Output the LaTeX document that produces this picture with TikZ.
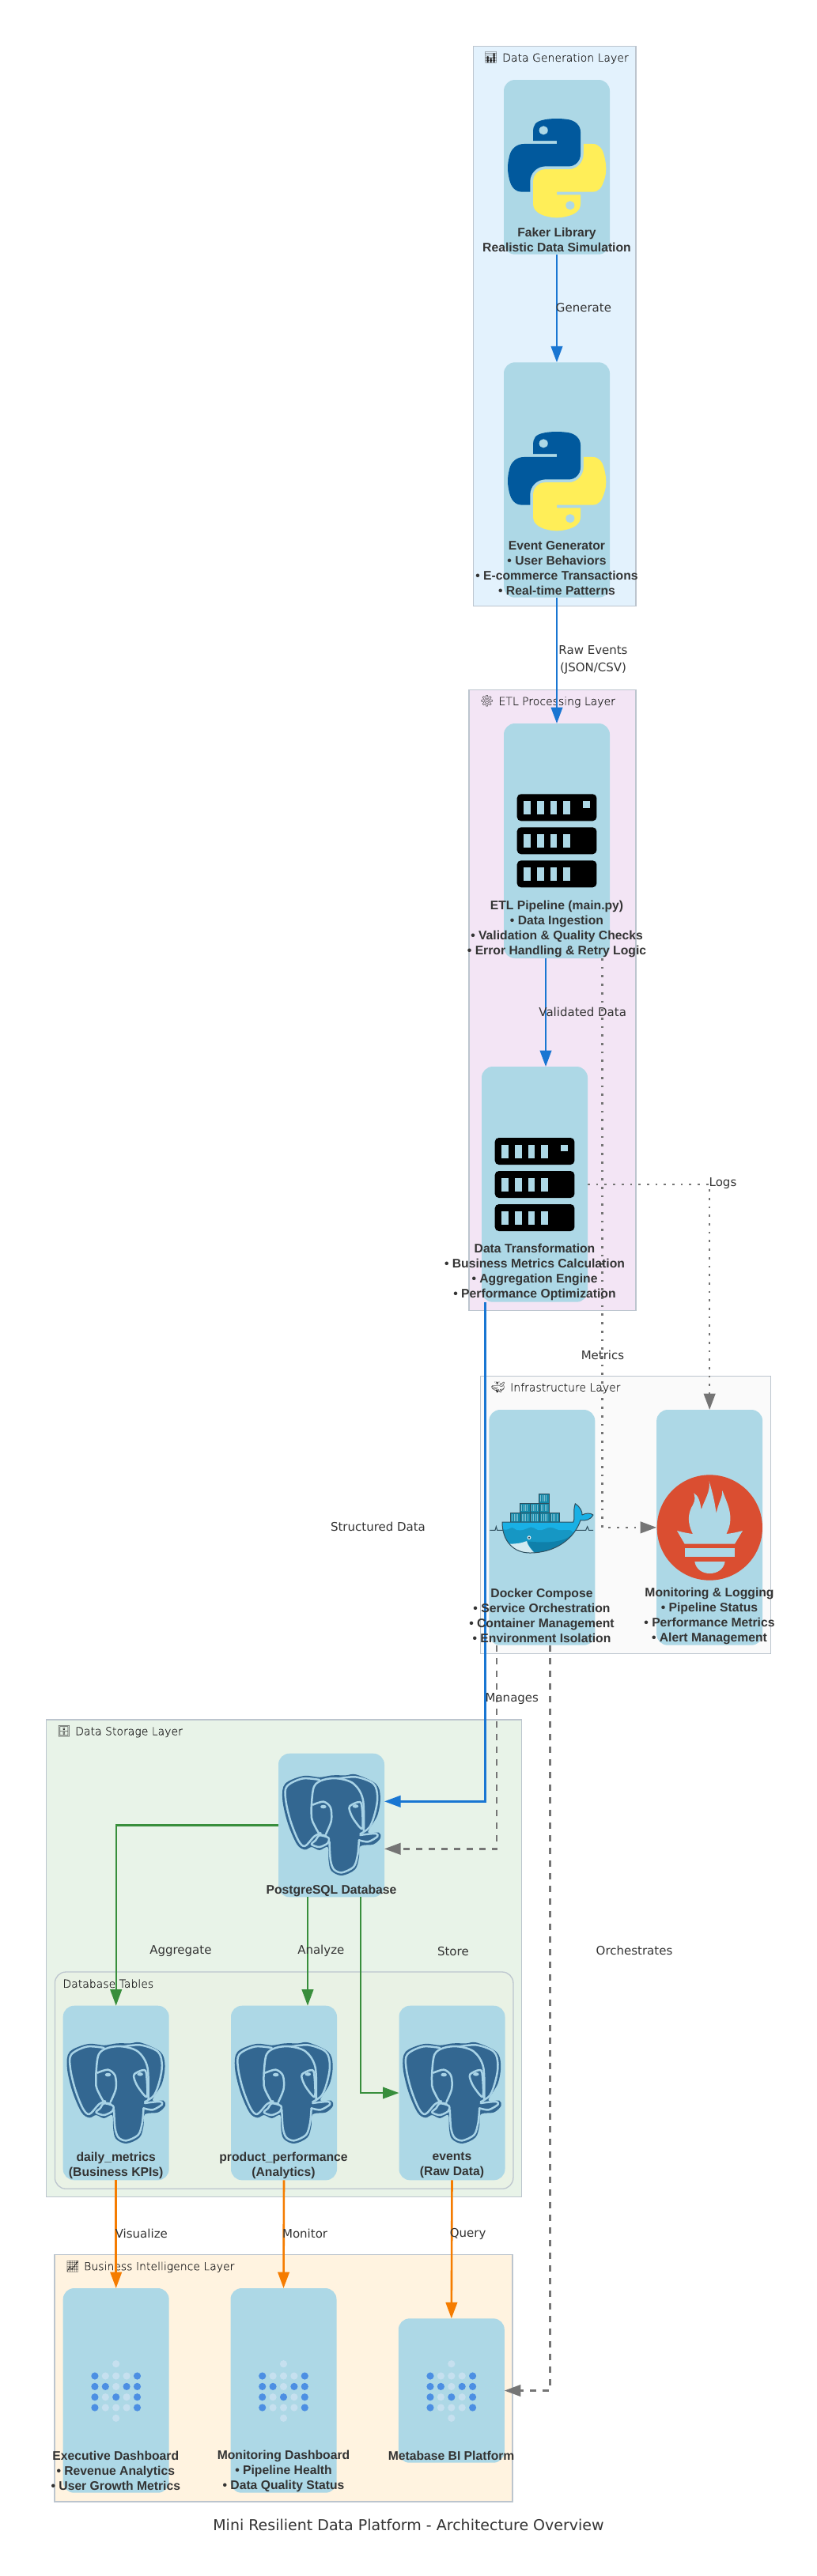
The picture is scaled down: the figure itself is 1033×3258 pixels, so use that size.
\documentclass[tikz,border=0pt]{standalone}
\usepackage{fontspec}
\setmainfont{DejaVu Sans}
\newfontfamily\boldf{Liberation Sans Bold}
\newfontfamily\lightf[FakeBold=0.2]{DejaVu Sans ExtraLight}
\newfontfamily\emoj{Noto Emoji}
\usetikzlibrary{arrows.meta,svg.path}
\definecolor{nodefill}{HTML}{ADD8E6}
\definecolor{txt}{HTML}{333333}
\definecolor{laytxt}{HTML}{222222}
\definecolor{flowb}{HTML}{1976D2}
\definecolor{flowg}{HTML}{388E3C}
\definecolor{flowo}{HTML}{F57C00}
\definecolor{flowk}{HTML}{757575}
\definecolor{edgeline}{HTML}{BCC5CE}
\definecolor{pgblue}{HTML}{336791}
\definecolor{pglight}{HTML}{A8D3E6}
\definecolor{pyblue}{HTML}{01599D}
\definecolor{pyyel}{HTML}{FFEE58}
\definecolor{promred}{HTML}{DA4E31}
\definecolor{mbdark}{HTML}{4C8FE3}
\definecolor{mblight}{HTML}{C6E0EF}
\definecolor{dkline}{HTML}{2F4F5E}
\definecolor{dkcont}{HTML}{1488A8}
\definecolor{dktop}{HTML}{19B0E5}
\definecolor{dkbody}{HTML}{1697C4}
\definecolor{dkdeep}{HTML}{0F80AA}
\definecolor{lgen}{HTML}{E3F2FD}
\definecolor{letl}{HTML}{F3E5F5}
\definecolor{linf}{HTML}{FAFAFA}
\definecolor{lsto}{HTML}{E8F3E8}
\definecolor{ltab}{HTML}{E9F2E5}
\definecolor{lbi}{HTML}{FFF3E0}
\tikzset{
  layerbox/.style={rectangle,draw=edgeline,line width=1.3pt,inner sep=0pt,outer sep=0pt},
  nodebox/.style={rectangle,rounded corners=14pt,fill=nodefill,inner sep=0pt,outer sep=0pt,minimum width=134pt},
  nodelabel/.style={font=\boldf\fontsize{15.7}{19}\selectfont,text=txt,align=center,inner sep=0pt},
  edgelabel/.style={font=\fontsize{15}{22.5}\selectfont,text=txt,align=center,inner sep=0pt},
  layerlabel/.style={font=\lightf\fontsize{14}{17}\selectfont,text=laytxt,anchor=west,inner sep=0pt},
  flow/.style={line width=2.6pt,-{Triangle[length=20.5pt,width=14.5pt]}},
  dashflow/.style={line width=2.4pt,draw=flowk,dash pattern=on 8pt off 8pt,-{Triangle[length=20.5pt,width=14.5pt,fill=flowk]}},
  dotflow/.style={line width=2.6pt,draw=flowk,dash pattern=on 2.7pt off 8pt,-{Triangle[length=20.5pt,width=14.5pt,fill=flowk]}},
  pgline/.style={draw=pglight,line width=2.5pt,line cap=round,line join=round},
}
\newcommand{\pyicon}[2]{%
  \begin{scope}[shift={(#1,#2)},xscale=1.118,yscale=-1.115]
  \fill[pyblue,even odd rule] svg {M 54.918785 0 C 50.335132 0.02221727 45.957846 0.41313697 42.106285 1.0946693 C 30.760069 3.0991731 28.700036 7.2947714 28.700035 15.032169 L 28.700035 25.250919 L 55.512535 25.250919 L 55.512535 28.657169 L 18.637535 28.657169 C 10.845076 28.657169 4.021776 33.340886 1.887535 42.250919 C -0.574285 52.463885 -0.68348 58.836942 1.887535 69.500919 C 3.793463 77.438771 8.345078 83.094667 16.137535 83.094669 L 25.356285 83.094669 L 25.356285 70.844669 C 25.356285 61.994767 33.013429 54.188421 42.106285 54.188419 L 68.887535 54.188419 C 76.342486 54.188419 82.293788 48.050255 82.293785 40.563419 L 82.293785 15.032169 C 82.293785 7.76583 76.163805 2.307392 68.887535 1.0946693 C 64.281548 0.32794397 59.502438 -0.02037903 54.918785 0 Z M 40.418785 8.21875 C 43.188332 8.21875 45.450035 10.5174 45.450035 13.34375 C 45.450035 16.160086 43.188332 18.4375 40.418785 18.4375 C 37.639309 18.4375 35.387535 16.160086 35.387535 13.34375 C 35.387535 10.5174 37.639309 8.21875 40.418785 8.21875 Z};
  \fill[pyyel,even odd rule] svg {M 85.637535 28.657169 L 85.637535 40.563419 C 85.637535 49.794174 77.81164 57.563418 68.887535 57.563419 L 42.106285 57.563419 C 34.770452 57.563419 28.700036 63.841902 28.700035 71.188419 L 28.700035 96.719666 C 28.700035 103.98601 35.018623 108.25999 42.106285 110.34467 C 50.593616 112.84028 58.732522 113.2913 68.887535 110.34467 C 75.63769 108.39028 82.293788 104.45706 82.293785 96.719666 L 82.293785 86.500919 L 55.512535 86.500919 L 55.512535 83.094669 L 95.700039 83.094669 C 103.4925 83.094669 106.39629 77.659261 109.10628 69.500919 C 111.90561 61.102033 111.8465 53.025143 109.10628 42.250919 C 107.1805 34.493478 103.50241 28.657169 95.700039 28.657169 Z M 70.575035 93.313419 C 73.354513 93.313422 75.606285 95.590836 75.606285 98.407166 C 75.606285 101.23352 73.35451 103.53217 70.575035 103.53217 C 67.805485 103.53217 65.543785 101.23352 65.543785 98.407166 C 65.543785 95.590836 67.805482 93.313419 70.575035 93.313419 Z};
  \end{scope}}
\newcommand{\srvrow}[3]{%
  \fill[black,rounded corners=5pt] (#1,#2) rectangle ++(100.7,34);
  \foreach \k in {0,1,2,3} {\fill[nodefill] (#1+8.3+16.8*\k,#2+8.7) rectangle ++(8.7,17);}
  \ifnum#3=1 \fill[nodefill] (#1+83.7,#2+8.7) rectangle ++(8.7,8.7);\fi}
\newcommand{\srvicon}[2]{%
  \srvrow{#1}{#2}{1}\srvrow{#1}{#2+42}{0}\srvrow{#1}{#2+84}{0}}
\newcommand{\pgicon}[2]{%
  \begin{scope}[shift={(#1,#2)}]
  \fill[pgblue] plot[smooth cycle,tension=0.55] coordinates {(26.7,1.7)(46.7,3.5)(63,1)(80,1)(93,0)(118,11.7)(123.7,28.3)(120,51.7)(108,73)(121.7,73.3)(124,80)(115,88.3)(98.3,90.7)(96.7,105)(91.7,120)(75,127.7)(61.7,121.7)(58.3,108.3)(57.3,91.7)(46.7,95.7)(36.7,91.7)(28.3,95)(18.3,88.3)(6.7,61.7)(0,31.7)(3.3,11.7)};
  \draw[pgline] plot[smooth,tension=0.55] coordinates {(46.7,6.7)(25,5.2)(5.5,15)(4,31.7)(10,58.3)(20,83.3)(28.3,90.5)(40,78.3)(48.3,74)};
  \draw[pgline] plot[smooth,tension=0.55] coordinates {(36.7,55)(36.7,38.3)(40,15)(51.7,6.7)(70,5)(90,11.7)(101.7,31.7)(102.7,71.7)};
  \draw[pgline] plot[smooth,tension=0.55] coordinates {(71.7,5)(93.3,3.2)(115,11.7)(120,28.3)(117,48.3)(110,66.7)(98.3,75)};
  \draw[pgline] plot[smooth,tension=0.5] coordinates {(38.3,38.3)(51.7,34.3)(60.7,41.7)(61.7,58.3)(55,75)};
  \draw[pgline] plot[smooth,tension=0.5] coordinates {(37,55)(38.3,60)(46.7,75)(55,77)};
  \draw[pgline] plot[smooth cycle,tension=0.5] coordinates {(85,40)(95,35)(100,38.3)(101,68.3)(90,56.7)(85,46)};
  \draw[pgline] plot[smooth,tension=0.5] coordinates {(59.3,85)(60.7,108.3)(65,120)(75,124)(90,116.7)(95,101.7)(96.7,83)};
  \draw[pgline] plot[smooth,tension=0.5] coordinates {(96.7,83)(108.3,85)(120,78.5)(118.3,74.8)(106.7,75.5)(98.3,76.7)};
  \draw[pgline] plot[smooth cycle,tension=0.5] coordinates {(36.7,88.3)(42,83)(46.7,77)(58,80)(57.3,86.7)(46.7,91.7)};
  \fill[pglight] (51.7,40.7) ellipse [x radius=3.8pt,y radius=2.3pt];
  \fill[pglight] (92.3,40) ellipse [x radius=3.8pt,y radius=2.3pt];
  \end{scope}}
\newcommand{\mbdot}[3]{\fill[#3] (13.4*#1,#2) circle [radius=4.6pt];}
\newcommand{\mbicon}[2]{%
  \begin{scope}[shift={(#1,#2)}]
  \mbdot{0}{-15.3}{mblight}
  \mbdot{-2}{0}{mbdark}\mbdot{-1}{0}{mblight}\mbdot{0}{0}{mblight}\mbdot{1}{0}{mblight}\mbdot{2}{0}{mbdark}
  \mbdot{-2}{13.35}{mbdark}\mbdot{-1}{13.35}{mbdark}\mbdot{0}{13.35}{mblight}\mbdot{1}{13.35}{mbdark}\mbdot{2}{13.35}{mbdark}
  \mbdot{-2}{26.7}{mbdark}\mbdot{-1}{26.7}{mblight}\mbdot{0}{26.7}{mbdark}\mbdot{1}{26.7}{mblight}\mbdot{2}{26.7}{mbdark}
  \mbdot{-2}{40}{mbdark}\mbdot{-1}{40}{mblight}\mbdot{0}{40}{mblight}\mbdot{1}{40}{mblight}\mbdot{2}{40}{mbdark}
  \mbdot{0}{53.3}{mblight}
  \end{scope}}
\newcommand{\lay}[2]{\makebox[#1pt][l]{\emoj #2}}
\begin{document}
\begin{tikzpicture}[x=1pt,y=-1pt]
\useasboundingbox (0,0) rectangle (1033,3258);
\fill[white] (0,0) rectangle (1033,3258);
% layers
\node[layerbox,fill=lgen,minimum width=205.7pt,minimum height=708pt] (lgenb) at (701.15,412.7) {};
\node[layerbox,fill=letl,minimum width=211pt,minimum height=785pt] (letlb) at (698.5,1264.8) {};
\node[layerbox,fill=linf,minimum width=367pt,minimum height=350.6pt] (linfb) at (791.2,1916) {};
\node[layerbox,fill=lsto,minimum width=601pt,minimum height=603.7pt] (lstob) at (359,2476.85) {};
\node[layerbox,rounded corners=14pt,fill=ltab,minimum width=579.5pt,minimum height=274.3pt] (ltabb) at (359.15,2631.15) {};
\node[layerbox,fill=lbi,minimum width=579pt,minimum height=312.3pt] (lbib) at (358.5,3007.85) {};
\node[layerlabel] (tgen) at (611.7,73.3) {\lay{23.3}{📊}Data Generation Layer};
\node[layerlabel] (tetl) at (606.7,887.3) {\lay{23.6}{⚙}ETL Processing Layer};
\node[layerlabel] (tinf) at (620.7,1755) {\lay{24.3}{🐳}Infrastructure Layer};
\node[layerlabel] (tsto) at (72,2190) {\lay{23}{🗄}Data Storage Layer};
\node[layerlabel] (ttab) at (79.2,2508.7) {Database Tables};
\node[layerlabel] (tbi) at (83,2866.7) {\lay{23}{📈}Business Intelligence Layer};
% nodes
\node[nodebox,minimum height=220.7pt] (faker) at (704,211.35) {};
\node[nodebox,minimum height=297.4pt] (event) at (704,607) {};
\node[nodebox,minimum height=297pt] (etlp) at (704,1063.5) {};
\node[nodebox,minimum height=297.7pt] (trans) at (676,1497.85) {};
\node[nodebox,minimum height=297.7pt] (docker) at (685.3,1931.85) {};
\node[nodebox,minimum height=297.7pt] (mon) at (897.15,1931.85) {};
\node[nodebox,minimum height=181.6pt] (pg) at (419,2308.5) {};
\node[nodebox,minimum height=220.6pt] (daily) at (146.7,2647) {};
\node[nodebox,minimum height=220.6pt] (prod) at (359,2647) {};
\node[nodebox,minimum height=220.6pt] (evt) at (571.5,2647) {};
\node[nodebox,minimum height=258.7pt] (execd) at (146.7,3023.35) {};
\node[nodebox,minimum height=258.7pt] (mond) at (358.5,3023.35) {};
\node[nodebox,minimum height=182.4pt] (meta) at (570.8,3023.5) {};
% icons
\pyicon{642}{150}
\pyicon{642}{546}
\srvicon{653.7}{1004.3}
\srvicon{625.7}{1439}
\pgicon{357.2}{2244.3}
\pgicon{84.8}{2583.3}
\pgicon{297}{2583.3}
\pgicon{509.5}{2583.3}
\mbicon{146.7}{3005}
\mbicon{358.5}{3005}
\mbicon{570.8}{3005}
% docker
\begin{scope}[shift={(610,1880)},scale=1/3]
\draw[dkline,line width=1pt] (28,166) -- (48,166) -- (52,152) -- (56,166) -- (80,166);
\draw[dkline,line width=1pt] (340,166) -- (392,166) -- (398,152) -- (404,166) -- (420,166);
\foreach \cx/\cy in {215/27,143/63,180/63,217/63,107/100,144/100,181/100,218/100,255/100}{
  \fill[dkcont] (\cx,\cy) rectangle ++(37,37);
  \foreach \st in {6,13,20,27}{\draw[nodefill!70!dkcont,line width=0.5pt] (\cx+\st,\cy+6) -- (\cx+\st,\cy+31);}
  \draw[dkline,line width=1pt] (\cx,\cy) rectangle ++(37,37);
}
\fill[dkbody] (75,135) -- (345,135) .. controls (352,125) and (342,95) .. (352,65) .. controls (368,75) and (380,95) .. (378,108) .. controls (392,100) and (410,100) .. (420,108) .. controls (412,125) and (390,132) .. (372,128) .. controls (350,195) and (280,252) .. (180,252) .. controls (120,252) and (75,210) .. (75,135) -- cycle;
\fill[dktop] (75,135) -- (345,135) .. controls (352,125) and (342,95) .. (352,65) .. controls (368,75) and (380,95) .. (378,108) .. controls (392,100) and (410,100) .. (420,108) .. controls (412,125) and (390,132) .. (372,128) .. controls (362,155) and (352,168) .. (345,175) .. controls (335,160) and (320,165) .. (305,165) .. controls (285,170) and (275,155) .. (258,155) .. controls (240,155) and (230,170) .. (210,165) .. controls (200,160) and (190,152) .. (180,155) .. controls (165,160) and (150,170) .. (130,165) .. controls (120,160) and (115,152) .. (105,158) .. controls (95,165) and (85,165) .. (77,163) -- cycle;
\fill[dkdeep] (195,250) .. controls (280,250) and (330,195) .. (348,172) .. controls (320,215) and (240,215) .. (168,208) -- cycle;
\fill[nodefill!55!white] (100,218) .. controls (125,218) and (150,215) .. (168,207) .. controls (172,225) and (185,240) .. (197,251) .. controls (160,254) and (125,245) .. (100,218) -- cycle;
\draw[dkline,line width=1pt,line join=round] (75,135) -- (345,135) .. controls (352,125) and (342,95) .. (352,65) .. controls (368,75) and (380,95) .. (378,108) .. controls (392,100) and (410,100) .. (420,108) .. controls (412,125) and (390,132) .. (372,128) .. controls (350,195) and (280,252) .. (180,252) .. controls (120,252) and (75,210) .. (75,135) -- cycle;
\fill[white] (177,194) circle [radius=7];
\fill[dkline] (177,194) circle [radius=4];
\end{scope}
% prometheus
\begin{scope}[shift={(560,1700)},scale=1/3]
\fill[promred] (1012,696) circle [radius=200];
\fill[nodefill] (888,708) .. controls (910,714) and (930,718) .. (948,720) .. controls (925,675) and (930,640) .. (948,610) .. controls (958,592) and (956,580) .. (952,565) .. controls (970,575) and (976,600) .. (980,628) .. controls (990,595) and (1016,560) .. (1010,520) .. controls (1020,555) and (1030,590) .. (1037,642) .. controls (1045,600) and (1060,585) .. (1060,555) .. controls (1072,590) and (1092,625) .. (1090,665) .. controls (1090,690) and (1082,705) .. (1075,720) .. controls (1095,718) and (1115,714) .. (1137,708) -- (1107,758) -- (917,758) -- cycle;
\fill[nodefill] (917,775) rectangle (1107,808);
\fill[nodefill] (955,825) -- (1070,825) .. controls (1065,855) and (1040,870) .. (1012,870) .. controls (985,870) and (960,855) .. (955,825) -- cycle;
\end{scope}
% connectors
\draw[flow,flowb] (faker) -- (event);
\draw[flow,flowb] (event) -- (etlp);
\draw[flow,flowb] ([xshift=-14pt]etlp.south) -- ([xshift=14pt]trans.north);
\draw[flow,flowb] ([xshift=-62.7pt]trans.south) |- ([yshift=30.2pt]pg.east);
\draw[dashflow] ([xshift=-57.3pt]docker.south) |- ([yshift=-29.8pt]pg.east);
\draw[dashflow] ([xshift=10pt]docker.south) |- (meta.east);
\draw[dotflow] ([xshift=57.7pt]etlp.south) |- (mon.west);
\draw[dotflow] (trans.east) -| (mon.north);
\draw[flow,flowg,line width=2.3pt] (pg.west) -| (daily.north);
\draw[flow,flowg,line width=2.3pt] ([xshift=-30pt]pg.south) -- ([xshift=30pt]prod.north);
\draw[flow,flowg,line width=2.3pt] ([xshift=36.7pt]pg.south) |- (evt.west);
\draw[flow,flowo] (daily.south) -- (execd.north);
\draw[flow,flowo] (prod.south) -- (mond.north);
\draw[flow,flowo] (evt.south) -- (meta.north);
% node labels
\node[nodelabel] (nfaker) at (704,303) {Faker Library\\Realistic Data Simulation};
\node[nodelabel] (nevent) at (704,718.5) {Event Generator\\• User Behaviors\\• E-commerce Transactions\\• Real-time Patterns};
\node[nodelabel] (netl) at (704,1175) {ETL Pipeline (main.py)\\• Data Ingestion\\• Validation \& Quality Checks\\• Error Handling \& Retry Logic};
\node[nodelabel] (ntrans) at (676,1608.5) {Data Transformation\\• Business Metrics Calculation\\• Aggregation Engine\\• Performance Optimization};
\node[nodelabel] (ndocker) at (685,2043.5) {Docker Compose\\• Service Orchestration\\• Container Management\\• Environment Isolation};
\node[nodelabel] (nmon) at (897,2043.5) {Monitoring \& Logging\\• Pipeline Status\\• Performance Metrics\\• Alert Management};
\node[nodelabel] (npg) at (419,2391) {PostgreSQL Database};
\node[nodelabel] (ndaily) at (146.7,2738.7) {daily\_metrics\\(Business KPIs)};
\node[nodelabel] (nprod) at (358.5,2738.7) {product\_performance\\(Analytics)};
\node[nodelabel] (nevt) at (571.5,2738.7) {events\\(Raw Data)};
\node[nodelabel] (nexec) at (146.3,3125) {Executive Dashboard\\• Revenue Analytics\\• User Growth Metrics};
\node[nodelabel] (nmond) at (358.5,3125) {Monitoring Dashboard\\• Pipeline Health\\• Data Quality Status};
\node[nodelabel] (nmeta) at (570.6,3105.5) {Metabase BI Platform};
% edge labels
\node[edgelabel] (egen) at (738,389) {Generate};
\node[edgelabel] (eraw) at (750,834.3) {Raw Events\\(JSON/CSV)};
\node[edgelabel] (eval) at (736.7,1280) {Validated Data};
\node[edgelabel] (emet) at (762,1714) {Metrics};
\node[edgelabel] (elog) at (914,1497) {Logs};
\node[edgelabel] (estr) at (478,1931) {Structured Data};
\node[edgelabel] (eman) at (647.3,2149) {Manages};
\node[edgelabel] (eorc) at (802,2467.3) {Orchestrates};
\node[edgelabel] (eagg) at (228.4,2467.7) {Aggregate};
\node[edgelabel] (eana) at (405.8,2467.7) {Analyze};
\node[edgelabel] (esto) at (572.9,2467.7) {Store};
\node[edgelabel] (evis) at (178.8,2825.3) {Visualize};
\node[edgelabel] (emoni) at (385.6,2825.3) {Monitor};
\node[edgelabel] (eque) at (591.6,2825.3) {Query};
\node[edgelabel,font=\fontsize{19}{23}\selectfont] (title) at (516.5,3193) {Mini Resilient Data Platform - Architecture Overview};
\end{tikzpicture}
\end{document}
